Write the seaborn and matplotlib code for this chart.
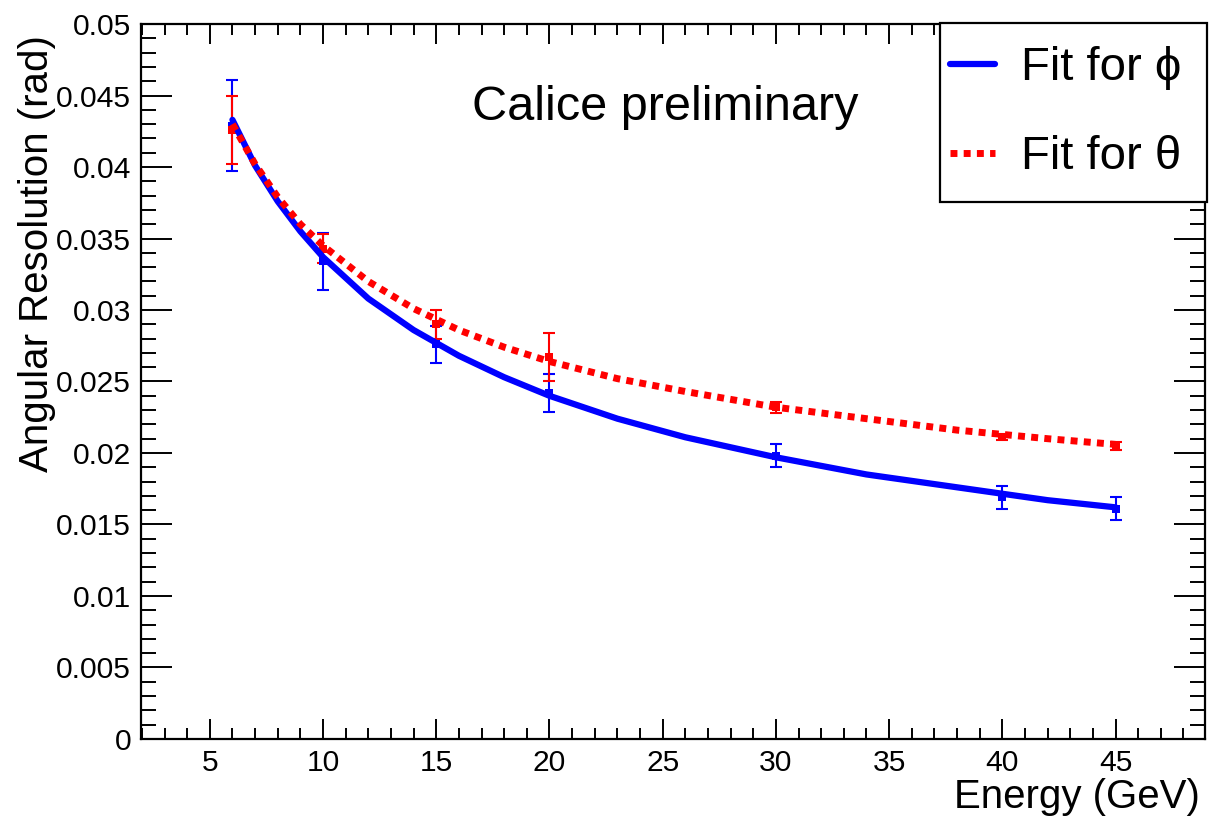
import numpy as np
import matplotlib
matplotlib.use("Agg")
import matplotlib.pyplot as plt
from matplotlib.patches import Rectangle
from matplotlib.ticker import MultipleLocator, FuncFormatter
import seaborn as sns

sns.set_style('ticks')
plt.rcParams['font.family'] = ['Liberation Sans', 'DejaVu Sans']
plt.rcParams['text.color'] = 'black'
plt.rcParams['axes.labelcolor'] = 'black'
plt.rcParams['xtick.color'] = 'black'
plt.rcParams['ytick.color'] = 'black'

# measured points (energy in GeV, resolution in rad)
energy = [6, 10, 15, 20, 30, 40, 45]
phi_res = [0.0429, 0.0334, 0.0276, 0.0242, 0.0198, 0.0169, 0.0161]
phi_err = [0.0032, 0.0020, 0.0013, 0.0013, 0.0008, 0.0008, 0.0008]
theta_res = [0.0426, 0.0343, 0.0290, 0.0267, 0.0232, 0.0211, 0.0205]
theta_err = [0.0024, 0.0010, 0.0010, 0.0017, 0.0004, 0.0002, 0.0003]

# fit curves
fit_energy = [6, 7, 8, 9, 10, 12, 14, 16, 18, 20, 23, 26, 30, 34, 38, 42, 45]
phi_fit = [0.0433, 0.0401, 0.0376, 0.0355, 0.0337, 0.0308, 0.0286, 0.0268, 0.0253,
           0.0240, 0.0224, 0.0211, 0.0197, 0.0185, 0.0176, 0.0167, 0.0162]
theta_fit = [0.0430, 0.0402, 0.0379, 0.0360, 0.0345, 0.0320, 0.0301, 0.0286, 0.0274,
             0.0264, 0.0252, 0.0243, 0.0232, 0.0224, 0.0216, 0.0210, 0.0206]

blue = '#0000ff'
red = '#ff0000'

fig, ax = plt.subplots(figsize=(12.09, 8.17), dpi=100)
fig.subplots_adjust(left=0.1164, right=0.9967, bottom=0.0955, top=0.9706)

# data points with error bars
ax.errorbar(energy, phi_res, yerr=phi_err, fmt='none', ecolor=blue, elinewidth=1.5,
            capsize=4.5, capthick=1.5, zorder=3)
ax.errorbar(energy, theta_res, yerr=theta_err, fmt='none', ecolor=red, elinewidth=1.5,
            capsize=4.5, capthick=1.5, zorder=3)
sns.scatterplot(x=energy, y=phi_res, color=blue, marker='s', s=30, linewidth=0, ax=ax, zorder=4)
sns.scatterplot(x=energy, y=theta_res, color=red, marker='s', s=30, linewidth=0, ax=ax, zorder=4)

# fits
sns.lineplot(x=fit_energy, y=phi_fit, color=blue, lw=4.5, ax=ax, label='Fit for ϕ', zorder=5)
sns.lineplot(x=fit_energy, y=theta_fit, color=red, lw=5, ax=ax, label='Fit for θ',
             linestyle=(0, (1.0, 0.9)), dash_capstyle='butt', zorder=5)

ax.set_xlim(1.95, 48.95)
ax.set_ylim(0, 0.05)
ax.xaxis.set_major_locator(MultipleLocator(5))
ax.xaxis.set_minor_locator(MultipleLocator(1))
ax.yaxis.set_major_locator(MultipleLocator(0.005))
ax.yaxis.set_minor_locator(MultipleLocator(0.001))
ax.yaxis.set_major_formatter(FuncFormatter(lambda v, p: '%g' % round(v, 4)))

ax.tick_params(axis='both', which='both', direction='in', top=True, right=True,
               width=1.4, color='black', labelsize=21.6, labelcolor='black')
ax.tick_params(axis='x', which='major', length=14.5, pad=7)
ax.tick_params(axis='x', which='minor', length=8)
ax.tick_params(axis='y', which='major', length=22.5, pad=7)
ax.tick_params(axis='y', which='minor', length=11)
for sp in ax.spines.values():
    sp.set_linewidth(1.6)
    sp.set_color('black')

ax.set_xlabel('Energy (GeV)', fontsize=29, loc='right')
ax.xaxis.set_label_coords(0.9953, -0.055)
ax.set_ylabel('Angular Resolution (rad)', fontsize=29, loc='top')
ax.yaxis.set_label_coords(-0.08, 0.985)

ax.text(0.311, 0.8657, 'Calice preliminary', transform=ax.transAxes, fontsize=35,
        va='baseline', ha='left')

# legend box (ROOT style, sticks out a little past the frame)
box = Rectangle((0.751, 0.751), 0.2513, 0.2504, transform=ax.transAxes, facecolor='white',
                edgecolor='black', linewidth=1.6, clip_on=False, zorder=9)
ax.add_patch(box)
leg = ax.legend(loc='upper left', bbox_to_anchor=(0.7604, 0.969), fontsize=34,
                frameon=False, borderpad=0, labelspacing=0.95, handlelength=0.95,
                handletextpad=0.55, borderaxespad=0)
leg.set_zorder(10)

fig.savefig('out.png', dpi=100, facecolor='white')
